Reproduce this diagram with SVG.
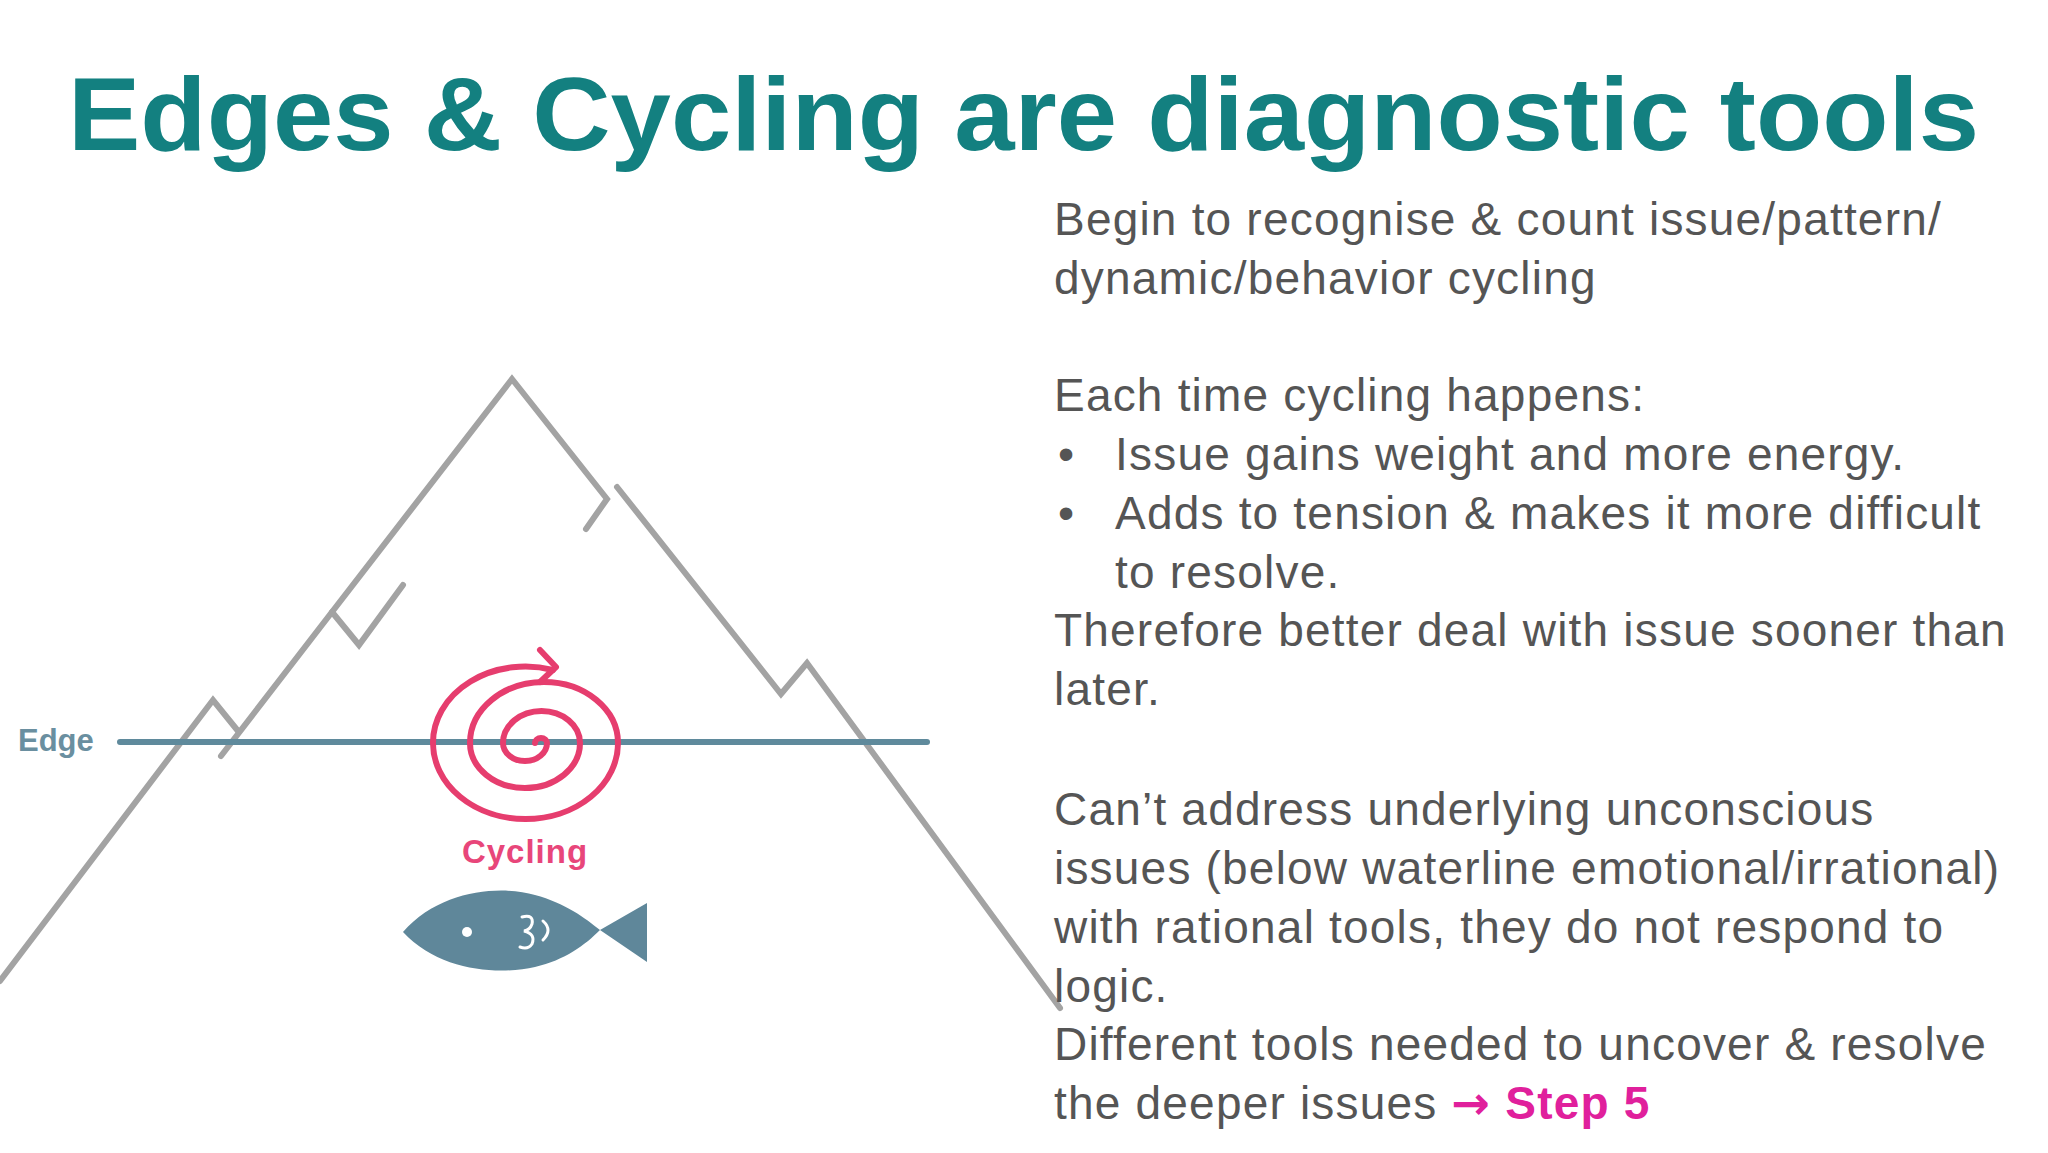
<svg xmlns="http://www.w3.org/2000/svg" width="2048" height="1153" viewBox="0 0 2048 1153">
<style>
.m{fill:none;stroke:#a3a3a3;stroke-width:6;stroke-linecap:round;stroke-linejoin:miter}
.b{font-family:"Liberation Sans",Arial,sans-serif;font-size:46px;letter-spacing:1.2px;fill:#555}
</style>
<rect width="2048" height="1153" fill="#fff"/>
<text x="68" y="150" font-family="Liberation Sans,Arial,sans-serif" font-weight="bold" font-size="104" fill="#138080" textLength="1911" lengthAdjust="spacingAndGlyphs">Edges &amp; Cycling are diagnostic tools</text>
<g id="mountain">
<polyline class="m" points="0,981 213,700 238,731"/>
<polyline class="m" points="221,756 332,612 512,379 607,499 586,529"/>
<polyline class="m" points="332,612 359,645 403,585"/>
<polyline class="m" points="617,487 781,694 807,663 1060,1008"/>
</g>
<g id="edge">
<line x1="120" y1="742" x2="927" y2="742" stroke="#5f8a9c" stroke-width="6" stroke-linecap="round"/>
<text x="18" y="751" font-family="Liberation Sans,Arial,sans-serif" font-weight="bold" font-size="31" fill="#6a8fa0">Edge</text>
</g>
<g id="cycling">
<path d="M535 743 A6 5 0 0 1 547 743 A22 18 0 0 1 503 743 A38.5 32 0 0 1 580 743 A55 45 0 0 1 470 743 A74 61 0 0 1 618 743 A92.5 76 0 0 1 433 743 A92.5 76 0 0 1 553 670" fill="none" stroke="#e63d6e" stroke-width="6" stroke-linecap="round"/>
<polyline points="540,650 556,667 540,682" fill="none" stroke="#e63d6e" stroke-width="6" stroke-linecap="round" stroke-linejoin="round"/>
<text x="525" y="863" text-anchor="middle" font-family="Liberation Sans,Arial,sans-serif" font-weight="bold" font-size="33" letter-spacing="1" fill="#e8467a">Cycling</text>
</g>
<g id="fish">
<path d="M403 932 C440 890 500 885 535 895 C565 903 585 918 600 930 L647 903 L647 962 L600 930 C585 945 565 960 535 967 C500 975 440 972 403 932 Z" fill="#5f879a"/>
<circle cx="467" cy="932" r="5" fill="#fff"/>
<path d="M522 917 Q534 914 532 924 Q530 930 524 931 Q536 934 532 944 Q528 950 520 947 M543 921 Q553 930 543 940" fill="none" stroke="#fff" stroke-width="3" stroke-linecap="round"/>
</g>
<g id="body" class="b">
<text x="1054" y="235">Begin to recognise &amp; count issue/pattern/</text>
<text x="1054" y="294">dynamic/behavior cycling</text>
<text x="1054" y="411">Each time cycling happens:</text>
<text x="1058" y="470">•</text><text x="1115" y="470">Issue gains weight and more energy.</text>
<text x="1058" y="529">•</text><text x="1115" y="529">Adds to tension &amp; makes it more difficult</text>
<text x="1115" y="588">to resolve.</text>
<text x="1054" y="646">Therefore better deal with issue sooner than</text>
<text x="1054" y="705">later.</text>
<text x="1054" y="825">Can’t address underlying unconscious</text>
<text x="1054" y="884">issues (below waterline emotional/irrational)</text>
<text x="1054" y="943">with rational tools, they do not respond to</text>
<text x="1054" y="1002">logic.</text>
<text x="1054" y="1060">Different tools needed to uncover &amp; resolve</text>
<text x="1054" y="1119">the deeper issues <tspan fill="#e0209c" font-weight="bold" font-family="DejaVu Sans,sans-serif">→</tspan><tspan fill="#e0209c" font-weight="bold"> Step 5</tspan></text>
</g>
</svg>
